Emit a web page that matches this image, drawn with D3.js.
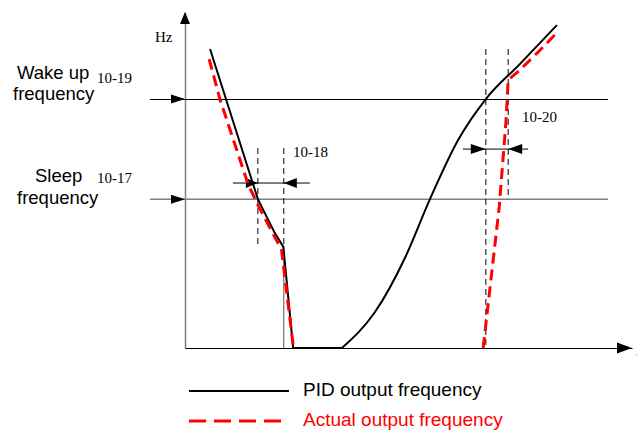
<!DOCTYPE html>
<html>
<head>
<meta charset="utf-8">
<script src="https://cdn.jsdelivr.net/npm/d3@7"></script>
<style>
  html, body { margin: 0; padding: 0; background: #fff; }
  svg { display: block; }
</style>
</head>
<body>
<div id="chart"></div>
<script>
// ---- data (time units 0..100, frequency in % of axis height) ----
const xDomain = [0, 100];
const yDomain = [0, 100];
const wakeFreq = 74.1;   // 10-19 wake up frequency
const sleepFreq = 44.3;  // 10-17 sleep frequency
const pidFall = [[5.6, 89.0], [16.3, 44.3], [20.1, 34.2], [22.0, 30.1], [24.2, 0]];
const pidFlat = [[24.2, 0], [35.1, 0]];
const pidRise = [[35.1, 0], [42.5, 10.7], [49.2, 26.8], [54.8, 44.3], [61.1, 61.9], [67.3, 74.1], [74.9, 84.5], [83.2, 96.1]];
const actFall = [[5.4, 86.0], [7.8, 74.1], [14.1, 48.8], [16.3, 42.6], [21.6, 29.2], [24.2, 0.8]];
const actRise = [[66.7, 0], [70.3, 42.0], [71.8, 67.3], [72.3, 79.8], [74.9, 82.7], [79.0, 88.1], [83.2, 93.8]];
const sleepDelay = [16.3, 22.1];   // 10-18
const wakeDelay = [67.3, 72.3];    // 10-20
const sleepDelayTop = 59.5, sleepDelayBottom = 30.1, sleepArrowY = 49.1;
const wakeDelayTop = 89.0, wakeArrowY = 59.2;
const seriesNames = ["PID output frequency", "Actual output frequency"];
const labels = { wake: ["Wake up", "frequency", "10-19"], sleep: ["Sleep", "frequency", "10-17"], d18: "10-18", d20: "10-20", yUnit: "Hz", xUnit: "t" };

const W = 640, H = 430;
const svg = d3.select("#chart").append("svg").attr("width", W).attr("height", H);
const x = d3.scaleLinear().domain(xDomain).range([185, 632]);
const y = d3.scaleLinear().domain(yDomain).range([348, 12]);
const line = d3.line().x(d => x(d[0])).y(d => y(d[1]));
const smooth = d3.line().x(d => x(d[0])).y(d => y(d[1])).curve(d3.curveMonotoneX);
const sans = "'Liberation Sans', Arial, sans-serif";
const serif = "'Liberation Serif', 'Times New Roman', serif";

function arrow(tx, ty, dir, len = 15, half = 5) {
  let pts;
  if (dir === "right") pts = [[tx, ty], [tx - len, ty - half], [tx - len, ty + half]];
  else if (dir === "left") pts = [[tx, ty], [tx + len, ty - half], [tx + len, ty + half]];
  else pts = [[tx, ty], [tx - half, ty + len], [tx + half, ty + len]];
  svg.append("path").attr("d", "M" + pts.join("L") + "Z").attr("fill", "#000");
}

// axes
svg.append("g").attr("transform", `translate(${x(0)},0)`)
  .call(d3.axisLeft(y).ticks(0).tickSizeOuter(0))
  .call(g => g.select(".domain").attr("stroke", "#808080").attr("stroke-width", 1.5));
svg.append("g").attr("transform", `translate(0,${y(0)})`)
  .call(d3.axisBottom(x).ticks(0).tickSizeOuter(0))
  .call(g => g.select(".domain").attr("stroke", "#000").attr("stroke-width", 1.2));
arrow(x(0), y(100), "up", 12, 5);
arrow(x(100), y(0), "right", 15, 5.5);
svg.append("text").attr("x", x(100) + 4).attr("y", y(0) + 8).attr("font-size", 5).attr("fill", "#999").attr("font-family", serif).text(labels.xUnit);
svg.append("text").attr("x", 155).attr("y", 42).attr("font-size", 15).attr("font-family", serif).text(labels.yUnit);

// wake & sleep threshold lines
svg.append("line").attr("x1", 150).attr("x2", 608).attr("y1", y(wakeFreq)).attr("y2", y(wakeFreq))
  .attr("stroke", "#000").attr("stroke-width", 1).attr("shape-rendering", "crispEdges");
svg.append("line").attr("x1", 150).attr("x2", 608).attr("y1", y(sleepFreq)).attr("y2", y(sleepFreq))
  .attr("stroke", "#7f7f7f").attr("stroke-width", 1.5);
arrow(x(0), y(wakeFreq), "right", 14, 4.5);
arrow(x(0), y(sleepFreq), "right", 14, 4.5);

// left labels
svg.append("text").attr("x", 17).attr("y", 79).attr("font-size", 18.5).attr("font-family", sans).text(labels.wake[0]);
svg.append("text").attr("x", 13).attr("y", 100).attr("font-size", 18.5).attr("font-family", sans).text(labels.wake[1]);
svg.append("text").attr("x", 97).attr("y", 83).attr("font-size", 15).attr("font-family", serif).text(labels.wake[2]);
svg.append("text").attr("x", 35).attr("y", 182).attr("font-size", 18.5).attr("font-family", sans).text(labels.sleep[0]);
svg.append("text").attr("x", 17).attr("y", 204).attr("font-size", 18.5).attr("font-family", sans).text(labels.sleep[1]);
svg.append("text").attr("x", 97).attr("y", 183).attr("font-size", 15).attr("font-family", serif).text(labels.sleep[2]);

// 10-18 markers
sleepDelay.forEach(t => {
  svg.append("line").attr("x1", x(t)).attr("x2", x(t)).attr("y1", y(sleepDelayTop)).attr("y2", y(sleepDelayBottom))
    .attr("stroke", "#000").attr("stroke-width", 1).attr("stroke-dasharray", "6,4");
});
svg.append("line").attr("x1", x(sleepDelay[1])).attr("x2", x(sleepDelay[1])).attr("y1", y(sleepDelayBottom)).attr("y2", y(0))
  .attr("stroke", "#555").attr("stroke-width", 1);
svg.append("line").attr("x1", x(sleepDelay[0]) - 25).attr("x2", x(sleepDelay[1]) + 26).attr("y1", y(sleepArrowY)).attr("y2", y(sleepArrowY)).attr("stroke", "#000").attr("stroke-width", 1);
arrow(x(sleepDelay[0]), y(sleepArrowY), "right", 12, 5);
arrow(x(sleepDelay[1]), y(sleepArrowY), "left", 13, 5);
svg.append("text").attr("x", 293).attr("y", 157).attr("font-size", 15).attr("font-family", serif).text(labels.d18);

// 10-20 markers
svg.append("line").attr("x1", x(wakeDelay[0])).attr("x2", x(wakeDelay[0])).attr("y1", y(wakeDelayTop)).attr("y2", y(0))
  .attr("stroke", "#000").attr("stroke-width", 1).attr("stroke-dasharray", "6,4");
svg.append("line").attr("x1", x(wakeDelay[1])).attr("x2", x(wakeDelay[1])).attr("y1", y(wakeDelayTop)).attr("y2", y(sleepFreq))
  .attr("stroke", "#000").attr("stroke-width", 1).attr("stroke-dasharray", "6,4");
svg.append("line").attr("x1", x(wakeDelay[0]) - 23).attr("x2", x(wakeDelay[1]) + 20).attr("y1", y(wakeArrowY)).attr("y2", y(wakeArrowY)).attr("stroke", "#000").attr("stroke-width", 1);
arrow(x(wakeDelay[0]), y(wakeArrowY), "right", 15, 5);
arrow(x(wakeDelay[1]), y(wakeArrowY), "left", 14, 5);
svg.append("text").attr("x", 522).attr("y", 122).attr("font-size", 15).attr("font-family", serif).text(labels.d20);

// PID output (black)
[pidFall, pidFlat].forEach(d => svg.append("path").datum(d).attr("d", line).attr("fill", "none").attr("stroke", "#000").attr("stroke-width", 2).attr("stroke-linejoin", "round"));
svg.append("path").datum(pidRise).attr("d", smooth).attr("fill", "none").attr("stroke", "#000").attr("stroke-width", 2);

// Actual output (red dashed)
[actFall, actRise].forEach(d => svg.append("path").datum(d).attr("d", line).attr("fill", "none").attr("stroke", "#ff0000").attr("stroke-width", 3).attr("stroke-dasharray", "11,6"));

// legend
svg.append("line").attr("x1", 189).attr("x2", 289).attr("y1", 391).attr("y2", 391).attr("stroke", "#000").attr("stroke-width", 2);
svg.append("text").attr("x", 303).attr("y", 396).attr("font-size", 19).attr("font-family", sans).attr("fill", "#000").text(seriesNames[0]);
svg.append("line").attr("x1", 189).attr("x2", 281).attr("y1", 421).attr("y2", 421).attr("stroke", "#ff0000").attr("stroke-width", 3).attr("stroke-dasharray", "17,8");
svg.append("text").attr("x", 303).attr("y", 426).attr("font-size", 19).attr("font-family", sans).attr("fill", "#ff0000").text(seriesNames[1]);
</script>
</body>
</html>
